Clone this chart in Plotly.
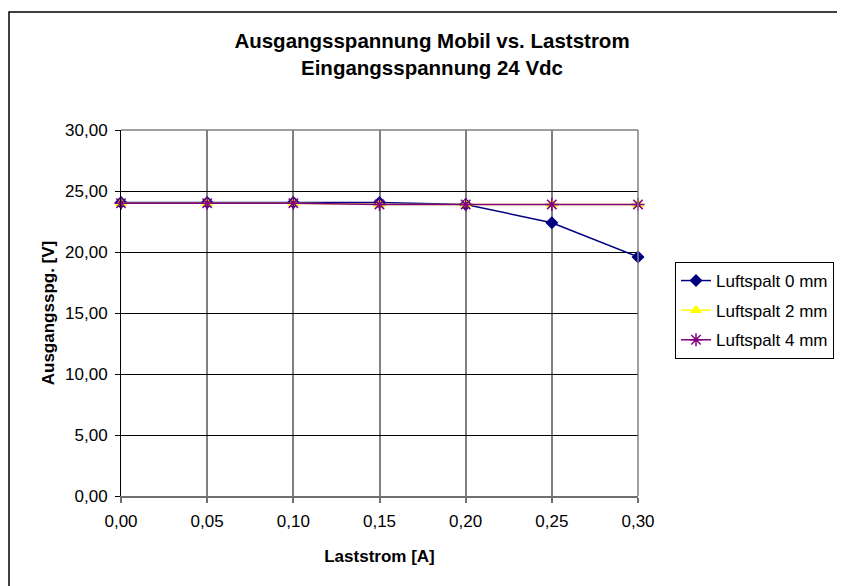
import plotly.graph_objects as go

strom = [0.00, 0.05, 0.10, 0.15, 0.20, 0.25, 0.30]
spalt0 = [24.05, 24.05, 24.05, 24.05, 23.9, 22.4, 19.6]
spalt2 = [24.0, 24.0, 24.0, 23.9, 23.9, 23.9, 23.9]
spalt4 = [24.0, 24.0, 24.0, 23.9, 23.9, 23.9, 23.9]
x_ticks = [0.00, 0.05, 0.10, 0.15, 0.20, 0.25, 0.30]
y_ticks = [0, 5, 10, 15, 20, 25, 30]

FONT = "Liberation Sans, Arial, sans-serif"

# page offset (browser body margin) compensation
OX, OY = 8, 8
W, H = 845, 586
PL, PR, PT, PB = 121 - OX, 638 - OX, 130 - OY, 496 - OY
PW, PH = PR - PL, PB - PT

fig = go.Figure()
fig.add_trace(go.Scatter(x=strom, y=spalt0, mode="lines+markers", name="Luftspalt 0 mm",
                         legendgroup="a",
                         line=dict(color="#000080", width=1.5),
                         marker=dict(symbol="diamond", size=10, color="#000080"), cliponaxis=False))
fig.add_trace(go.Scatter(x=strom, y=spalt2, mode="lines+markers", name="Luftspalt 2 mm",
                         legendgroup="b",
                         line=dict(color="#FFFF00", width=1.5),
                         marker=dict(symbol="triangle-up", size=11, color="#FFFF00"), cliponaxis=False))
fig.add_trace(go.Scatter(x=strom, y=spalt4, mode="lines+markers", name="Luftspalt 4 mm",
                         legendgroup="c",
                         line=dict(color="#800080", width=1.5),
                         marker=dict(symbol="asterisk-open", size=11, color="#800080",
                                     line=dict(color="#800080", width=1.5)), cliponaxis=False))

fig.update_layout(
    width=W, height=H,
    margin=dict(l=PL, r=W - PR, t=PT, b=H - PB, autoexpand=False),
    paper_bgcolor="white", plot_bgcolor="white",
    separators=",.",
    font=dict(family=FONT, size=17, color="black"),
    title=dict(text="<b>Ausgangsspannung Mobil vs. Laststrom<br>Eingangsspannung 24 Vdc</b>",
               x=(432 - OX) / W, xanchor="center", y=1 - (48 - OY) / H, yanchor="middle",
               xref="container", yref="container",
               font=dict(family=FONT, size=20.5, color="black")),
    xaxis=dict(range=[0, 0.3], tickvals=x_ticks, tickformat=".2f",
               showgrid=True, gridcolor="#808080", gridwidth=1.5,
               showline=True, linecolor="#707070", linewidth=2,
               ticks="outside", ticklen=5, tickcolor="#707070", tickwidth=1.5,
               ticklabelstandoff=4,
               zeroline=False, automargin=False,
               title=dict(text="<b>Laststrom [A]</b>", font=dict(family=FONT, size=17), standoff=20)),
    yaxis=dict(range=[0, 30], tickvals=y_ticks, tickformat=".2f",
               showgrid=True, gridcolor="black", gridwidth=1,
               showline=True, linecolor="black", linewidth=1,
               ticks="outside", ticklen=5, tickcolor="black",
               ticklabelstandoff=4,
               zeroline=False, automargin=False,
               title=dict(text="<b>Ausgangsspg. [V]</b>", font=dict(family=FONT, size=17), standoff=6)),
    legend=dict(x=(675 - OX - PL) / PW, y=(PB - (262 - OY)) / PH, xanchor="left", yanchor="top",
                bordercolor="black", borderwidth=1, bgcolor="white",
                font=dict(family=FONT, size=17), tracegroupgap=4.5),
    showlegend=True,
)

# outer chart frame
fig.add_shape(type="rect", xref="paper", yref="paper",
              x0=(9 - OX - PL) / PW, x1=(900 - PL) / PW,
              y0=(PB - 620) / PH, y1=(PB - (12 - OY)) / PH,
              line=dict(color="black", width=1.5), fillcolor="rgba(0,0,0,0)", layer="below")
# top and right border of plot area
fig.add_shape(type="line", xref="paper", yref="paper", x0=0, x1=1, y0=1, y1=1,
              line=dict(color="#808080", width=1.5))
fig.add_shape(type="line", xref="paper", yref="paper", x0=1, x1=1, y0=0, y1=1,
              line=dict(color="#808080", width=1.5))

fig.write_html("out.html")
